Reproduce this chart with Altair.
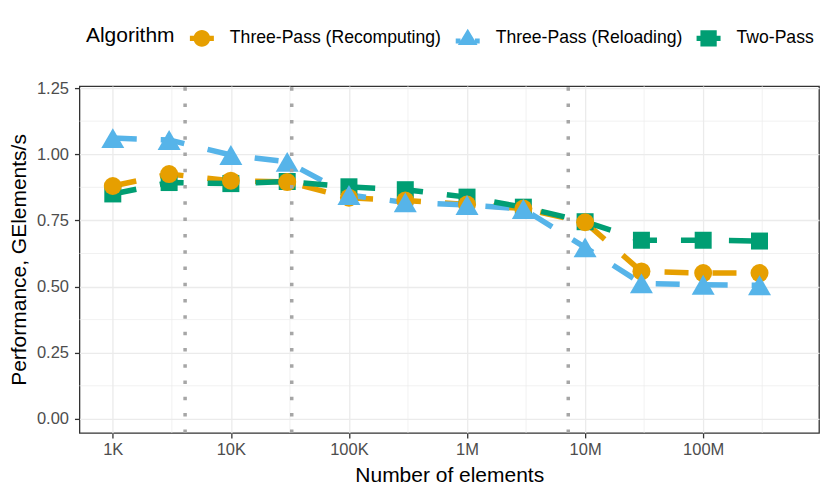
import altair as alt
import pandas as pd

# ---- data ----
sizes = [1e3, 3e3, 1e4, 3e4, 1e5, 3e5, 1e6, 3e6, 1e7, 3e7, 1e8, 3e8]
recomputing = [0.880, 0.925, 0.900, 0.895, 0.836, 0.825, 0.810, 0.795, 0.743, 0.557, 0.551, 0.551]
reloading = [1.061, 1.054, 0.997, 0.971, 0.846, 0.818, 0.808, 0.793, 0.648, 0.512, 0.507, 0.505]
two_pass = [0.850, 0.893, 0.889, 0.897, 0.877, 0.866, 0.838, 0.800, 0.745, 0.675, 0.675, 0.672]
algorithms = ["Three-Pass (Recomputing)", "Three-Pass (Reloading)", "Two-Pass"]
cache_lines = [4096, 32768, 7.2e6]
x_ticks = [1e3, 1e4, 1e5, 1e6, 1e7, 1e8]
x_tick_labels = ["1K", "10K", "100K", "1M", "10M", "100M"]
y_ticks = [0.0, 0.25, 0.5, 0.75, 1.0, 1.25]
minor_x = [3162.28, 31622.8, 316228, 3162280, 31622800, 316228000]
minor_y = [0.125, 0.375, 0.625, 0.875, 1.125]

# ---- styles ----
colors = ["#E69F00", "#56B4E9", "#009E73"]
W, H = 740, 347

rows = []
for alg, vals in zip(algorithms, [recomputing, reloading, two_pass]):
    for s, v in zip(sizes, vals):
        rows.append({"Algorithm": alg, "n": s, "perf": v})
df = pd.DataFrame(rows)

xscale = alt.Scale(type="log", domain=[522, 9.57e8], nice=False)
yscale = alt.Scale(domain=[-0.053, 1.2575], nice=False, zero=False)
cscale = alt.Scale(domain=algorithms, range=colors)

label_arr = "[" + ",".join("'%s'" % t for t in x_tick_labels) + "]"
x_label_expr = label_arr + "[round(log(datum.value)/LN10) - 3]"

x_axis = alt.Axis(values=x_ticks, labelExpr=x_label_expr, title="Number of elements",
                  grid=True, labelPadding=4, titlePadding=6)
y_axis = alt.Axis(values=y_ticks, format=".2f", title="Performance, GElements/s",
                  grid=True, labelPadding=6, titlePadding=7)


def X():
    return alt.X("n:Q", scale=xscale, axis=x_axis, title="Number of elements")


def Y():
    return alt.Y("perf:Q", scale=yscale, axis=y_axis, title="Performance, GElements/s")


minor_v = alt.Chart(pd.DataFrame({"n": minor_x})).mark_rule(
    color="#EBEBEB", strokeWidth=0.7
).encode(x=X(), y=alt.value(0), y2=alt.value(H))

minor_h = alt.Chart(pd.DataFrame({"perf": minor_y})).mark_rule(
    color="#EBEBEB", strokeWidth=0.7
).encode(y=Y(), x=alt.value(0), x2=alt.value(W))

base = alt.Chart(df)

line_layers = []
for alg, col in zip(algorithms, colors):
    line_layers.append(
        base.transform_filter(alt.datum.Algorithm == alg).mark_line(
            strokeWidth=5.5, strokeDash=[24, 24], strokeCap="butt", color=col
        ).encode(x=X(), y=Y())
    )

point_specs = [("Two-Pass", "square", 289),
               ("Three-Pass (Recomputing)", "circle", 324),
               ("Three-Pass (Reloading)", "triangle-up", 529)]
point_layers = []
for alg, shp, sz in point_specs:
    col = colors[algorithms.index(alg)]
    point_layers.append(
        base.transform_filter(alt.datum.Algorithm == alg).mark_point(
            filled=True, shape=shp, size=sz, opacity=1, strokeWidth=0, color=col
        ).encode(x=X(), y=Y())
    )

legend_paths = [
    "M-0.7,0A0.7,0.7,0,1,1,0.7,0A0.7,0.7,0,1,1,-0.7,0Z M-1,-0.22H-0.62V0.22H-1Z M0.62,-0.22H1V0.22H0.62Z",
    "M0,-0.8L0.82,0.55L-0.82,0.55Z M-1,0.02H-0.6V0.44H-1Z M0.6,0.02H1V0.44H0.6Z",
    "M-0.68,-0.68H0.68V0.68H-0.68Z M-1,-0.22H-0.66V0.22H-1Z M0.66,-0.22H1V0.22H0.66Z",
]
leg = alt.Legend(
    orient="none", legendX=6.5, legendY=-60, direction="horizontal",
    title="Algorithm", titleOrient="left", titleFontSize=21, titleFontWeight="normal",
    titleColor="black", titlePadding=15, titleBaseline="middle", titleAnchor="middle",
    labelFontSize=17.6, labelColor="black", labelOffset=16, columnPadding=14, labelLimit=0,
    symbolSize=576, symbolStrokeWidth=0, padding=0,
)
legend_layer = base.mark_point(filled=True, opacity=1, clip=True, strokeWidth=0).encode(
    x=alt.value(-400), y=alt.value(-400),
    color=alt.Color("Algorithm:N", scale=cscale, legend=leg),
    shape=alt.Shape("Algorithm:N", scale=alt.Scale(domain=algorithms, range=legend_paths), legend=leg),
)

rules = alt.Chart(pd.DataFrame({"n": cache_lines})).mark_rule(
    color="#A6A6A6", strokeWidth=3.5, strokeDash=[3.5, 12.8], strokeCap="butt"
).encode(x=X(), y=alt.value(H), y2=alt.value(0))

chart = alt.layer(minor_v, minor_h, *line_layers, *point_layers, legend_layer, rules).properties(
    width=W, height=H,
    padding={"left": 71.5, "top": 78, "right": 3, "bottom": 57},
    autosize=alt.AutoSizeParams(type="none"),
).configure(font="Liberation Sans").configure_view(
    stroke="#333333", strokeWidth=1.3
).configure_axis(
    gridColor="#EBEBEB", gridWidth=1.3, domain=False,
    tickColor="#333333", tickWidth=1.3, tickSize=5,
    labelColor="#4D4D4D", labelFontSize=16.5,
    titleFontSize=21, titleFontWeight="normal", titleColor="black",
)

chart.save("out.html", embed_options={"renderer": "svg", "actions": False})
